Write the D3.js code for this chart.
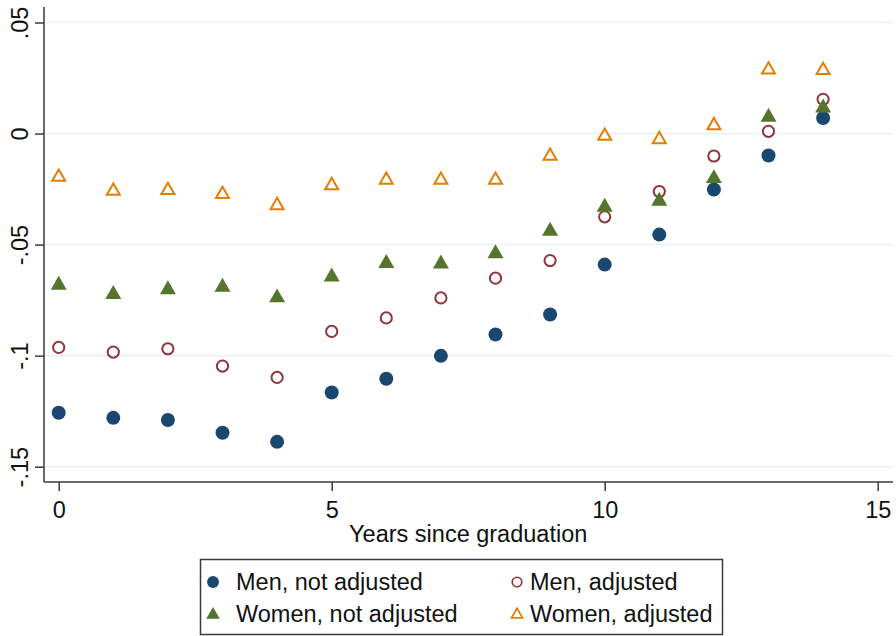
<!DOCTYPE html>
<html>
<head>
<meta charset="utf-8">
<script src="https://cdn.jsdelivr.net/npm/d3@7"></script>
<style>
  html, body { margin: 0; padding: 0; background: #fff; }
  svg { display: block; font-family: "Liberation Sans", Arial, sans-serif; }
</style>
</head>
<body>
<svg id="chart" width="896" height="636"></svg>
<script>
// Years since graduation
const years = [0, 1, 2, 3, 4, 5, 6, 7, 8, 9, 10, 11, 12, 13, 14];

// Estimated gaps by series
const menNotAdjusted   = [-0.1257, -0.1280, -0.1290, -0.1347, -0.1388, -0.1166, -0.1104, -0.1001, -0.0905, -0.0815, -0.0590, -0.0455, -0.0252, -0.0099, 0.0070];
const menAdjusted      = [-0.0963, -0.0984, -0.0969, -0.1047, -0.1098, -0.0891, -0.0830, -0.0740, -0.0651, -0.0572, -0.0375, -0.0261, -0.0101, 0.0010, 0.0154];
const womenNotAdjusted = [-0.0678, -0.0720, -0.0698, -0.0687, -0.0735, -0.0641, -0.0580, -0.0582, -0.0536, -0.0435, -0.0327, -0.0300, -0.0198, 0.0078, 0.0120];
const womenAdjusted    = [-0.0192, -0.0255, -0.0252, -0.0270, -0.0320, -0.0230, -0.0206, -0.0206, -0.0206, -0.0098, -0.0008, -0.0023, 0.0040, 0.0291, 0.0288];

const xTicks = [0, 5, 10, 15];
const yTicks = [0.05, 0, -0.05, -0.1, -0.15];
const yTickLabels = [".05", "0", "-.05", "-.1", "-.15"];
const xTitle = "Years since graduation";

const seriesNames = ["Men, not adjusted", "Men, adjusted", "Women, not adjusted", "Women, adjusted"];
const seriesValues = [menNotAdjusted, menAdjusted, womenNotAdjusted, womenAdjusted];
const seriesColors = ["#1a476f", "#90353b", "#55752f", "#e37e00"];
const seriesShapes = ["circle", "circle", "triangle", "triangle"];
const seriesHollow = [false, true, false, true];

const svg = d3.select("#chart");
const fontSize = 23.5;

const plot = { left: 44, right: 893, top: 7, bottom: 482 };

const x = d3.scaleLinear().domain([0, 15]).range([58.7, 877.7]);
const y = d3.scaleLinear().domain([-0.15, 0.05]).range([466.7, 22.5]);

// horizontal gridlines
svg.append("g")
  .selectAll("line")
  .data(yTicks)
  .join("line")
  .attr("x1", plot.left + 1)
  .attr("x2", plot.right)
  .attr("y1", d => y(d))
  .attr("y2", d => y(d))
  .attr("stroke", "#e8f0f3")
  .attr("stroke-width", 1.5);

// y axis
const yAxis = d3.axisLeft(y)
  .tickValues(yTicks)
  .tickSize(9)
  .tickFormat((d, i) => yTickLabels[i]);
const gy = svg.append("g")
  .attr("transform", `translate(${plot.left},0)`)
  .call(yAxis);
gy.select(".domain")
  .attr("d", `M0,${plot.top}V${plot.bottom}`)
  .attr("stroke", "#3a3a3a")
  .attr("stroke-width", 1.5);
gy.selectAll(".tick line").attr("stroke", "#3a3a3a").attr("stroke-width", 1.5);
gy.selectAll(".tick text")
  .attr("font-size", fontSize)
  .attr("fill", "#111")
  .attr("x", 0)
  .attr("y", 0)
  .attr("dy", 0)
  .attr("text-anchor", "middle")
  .attr("transform", "translate(-16,0) rotate(-90)");

// x axis
const xAxis = d3.axisBottom(x)
  .tickValues(xTicks)
  .tickSize(9)
  .tickFormat(d3.format("d"));
const gx = svg.append("g")
  .attr("transform", `translate(0,${plot.bottom})`)
  .call(xAxis);
gx.select(".domain")
  .attr("d", `M${plot.left},0H${plot.right}`)
  .attr("stroke", "#3a3a3a")
  .attr("stroke-width", 1.5);
gx.selectAll(".tick line").attr("stroke", "#3a3a3a").attr("stroke-width", 1.5);
gx.selectAll(".tick text")
  .attr("font-size", fontSize)
  .attr("fill", "#111")
  .attr("y", 36)
  .attr("dy", 0);

svg.append("text")
  .attr("x", (x(0) + x(15)) / 2)
  .attr("y", 542)
  .attr("text-anchor", "middle")
  .attr("font-size", fontSize)
  .attr("fill", "#111")
  .text(xTitle);

// marker drawing
function drawMarker(g, shape, hollow, color, cx, cy, scale) {
  if (shape === "circle") {
    const r = (hollow ? 5.6 : 7) * scale;
    g.append("circle")
      .attr("cx", cx).attr("cy", cy).attr("r", r)
      .attr("fill", hollow ? "none" : color)
      .attr("stroke", hollow ? color : "none")
      .attr("stroke-width", hollow ? 2 * scale : 0);
  } else {
    const w = (hollow ? 13 : 16) * scale;
    const h = w * 0.87;
    const pts = [[cx, cy - h * 0.6], [cx + w / 2, cy + h * 0.4], [cx - w / 2, cy + h * 0.4]];
    g.append("path")
      .attr("d", "M" + pts.map(p => p.join(",")).join("L") + "Z")
      .attr("fill", hollow ? "none" : color)
      .attr("stroke", hollow ? color : "none")
      .attr("stroke-width", hollow ? 2 * scale : 0)
      .attr("stroke-linejoin", "miter");
  }
}

// points
const marks = svg.append("g");
seriesValues.forEach((vals, s) => {
  const g = marks.append("g").attr("class", "series-" + s);
  vals.forEach((v, i) => {
    drawMarker(g, seriesShapes[s], seriesHollow[s], seriesColors[s], x(years[i]), y(v), 1);
  });
});

// legend
const legend = svg.append("g");
legend.append("rect")
  .attr("x", 200.5).attr("y", 559.5)
  .attr("width", 522).attr("height", 75)
  .attr("fill", "#fff")
  .attr("stroke", "#3a3a3a")
  .attr("stroke-width", 1.5);

const legendPos = [
  { mx: 213, tx: 236, by: 590 },
  { mx: 517, tx: 530, by: 590 },
  { mx: 213, tx: 236, by: 622 },
  { mx: 517, tx: 530, by: 622 }
];
seriesNames.forEach((name, s) => {
  const p = legendPos[s];
  drawMarker(legend, seriesShapes[s], seriesHollow[s], seriesColors[s], p.mx, p.by - 8, 0.85);
  legend.append("text")
    .attr("x", p.tx)
    .attr("y", p.by)
    .attr("font-size", fontSize)
    .attr("fill", "#111")
    .text(name);
});
</script>
</body>
</html>
